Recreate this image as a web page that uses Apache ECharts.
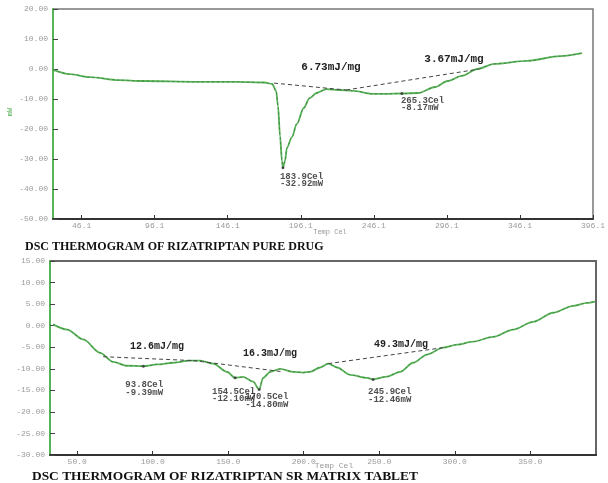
<!DOCTYPE html>
<html>
<head>
<meta charset="utf-8">
<script src="https://cdn.jsdelivr.net/npm/echarts@6/dist/echarts.min.js"></script>
<style>
  html, body { margin: 0; padding: 0; background: #fff; }
  #chart { width: 608px; height: 483px; }
</style>
</head>
<body>
<div id="chart"></div>
<script>
// --- Pure drug thermogram (temperature in Cel, heat flow in mW) ---
const pureTemp = [26.5, 37.9, 51.5, 71.7, 87.3, 125.8, 152.8, 171.1, 176.5, 179.2, 180.5, 181.9, 183.2, 183.9,
  185.3, 186.6, 190.0, 193.4, 198.1, 202.1, 206.9, 213.6, 222.4, 231.9, 245.4, 254.2, 265.3,
  276.5, 288.0, 296.7, 306.2, 317.0, 328.5, 350.8, 373.8, 388.6];
const pureHeat = [-0.3, -1.7, -2.7, -3.7, -4.0, -4.3, -4.3, -4.5, -5.0, -7.3, -12.3, -22.3, -30.7, -32.92,
  -30.7, -26.3, -22.7, -18.3, -13.0, -9.7, -8.0, -6.7, -7.0, -7.3, -8.3, -8.3, -8.17,
  -8.0, -6.0, -4.0, -2.3, 0.0, 1.7, 2.7, 4.3, 5.3];
const purePeakTemp = [183.9, 265.3];
const purePeakHeat = [-32.92, -8.17];
const pureBaseTemp = [[177.8, 227.1], [227.1, 318.4]];
const pureBaseHeat = [[-4.7, -7.0], [-7.0, 0.0]];
const pureEnthalpy = ['6.73mJ/mg', '3.67mJ/mg'];
const pureTicksX = [46.1, 96.1, 146.1, 196.1, 246.1, 296.1, 346.1, 396.1];

// --- SR matrix tablet thermogram ---
const tabTemp = [34.0, 43.4, 54.0, 65.2, 73.8, 83.1, 93.8, 103.0, 113.6, 124.8, 131.4, 140.0, 149.3, 154.5,
  159.9, 166.5, 170.5, 173.1, 177.8, 184.4, 193.0, 199.6, 204.2, 210.9, 216.2, 222.1, 230.7, 242.0, 245.9,
  255.2, 263.8, 272.4, 281.7, 292.3, 301.6, 312.2, 325.4, 338.6, 351.9, 365.1, 378.4, 387.6, 392.9];
const tabHeat = [0.3, -0.9, -3.2, -6.3, -8.4, -9.3, -9.39, -9.0, -8.6, -8.1, -8.1, -8.8, -10.7, -12.10,
  -11.9, -13.0, -14.80, -12.1, -10.7, -10.0, -10.7, -10.9, -10.7, -9.7, -8.8, -9.7, -11.4, -12.1, -12.46,
  -11.8, -10.7, -8.6, -6.7, -5.1, -4.4, -3.7, -2.6, -0.9, 0.9, 3.0, 4.6, 5.3, 5.6];
const tabPeakTemp = [93.8, 154.5, 170.5, 245.9];
const tabPeakHeat = [-9.39, -12.10, -14.80, -12.46];
const tabBaseTemp = [[67.2, 126.8], [126.8, 186.4], [216.2, 292.3]];
const tabBaseHeat = [[-7.2, -8.1], [-8.1, -10.7], [-8.8, -5.1]];
const tabEnthalpy = ['12.6mJ/mg', '16.3mJ/mg', '49.3mJ/mg'];
const tabTicksX = [50, 100, 150, 200, 250, 300, 350];

// label offsets (pixels) for the peak annotations
const purePeakOffsets = [[-1.5, 6.5], [0.5, 4.5]];
const tabPeakOffsets = [[-16.5, 16.5], [-21.5, 11.5], [-12.5, 5.5], [-3.5, 10.5]];
// enthalpy text anchors (pixels) and sizes
const pureEnthalpyPos = [[331, 67], [454, 59]];
const tabEnthalpyPos = [[157, 346], [270, 353], [401, 344]];

const zip = (a, b) => a.map((v, i) => [v, b[i]]);

const GREEN = '#57b357';
const MONO = "'Liberation Mono', 'DejaVu Sans Mono', monospace";

function xAxisCfg(grid, min, max, ticks) {
  return {
    type: 'value', gridIndex: grid, min: min, max: max,
    splitLine: { show: false },
    axisLine: { onZero: false, lineStyle: { color: '#333', width: 2 } },
    axisTick: { inside: true, length: 4, customValues: ticks, lineStyle: { color: '#333', width: 1 } },
    axisLabel: { customValues: ticks, formatter: v => v.toFixed(1), color: '#9a9a9a',
      fontFamily: MONO, fontSize: 8, margin: 3 }
  };
}
function yAxisCfg(grid, min, max, step) {
  return {
    type: 'value', gridIndex: grid, min: min, max: max, interval: step,
    splitLine: { show: false },
    axisLine: { onZero: false, lineStyle: { color: GREEN, width: 2 } },
    axisTick: { inside: true, length: 5, lineStyle: { color: '#444', width: 1 } },
    axisLabel: { formatter: v => v.toFixed(2), color: '#9a9a9a', fontFamily: MONO, fontSize: 8, margin: 5,
      showMinLabel: true, showMaxLabel: true }
  };
}

function curveSeries(idx, temps, heats) {
  const data = zip(temps, heats);
  return [
    { type: 'line', xAxisIndex: idx, yAxisIndex: idx, data: data, showSymbol: false,
      smooth: 0.3, smoothMonotone: 'x',
      lineStyle: { color: GREEN, width: 1.8 }, z: 3 },
    { type: 'line', xAxisIndex: idx, yAxisIndex: idx, data: data, showSymbol: false,
      smooth: 0.3, smoothMonotone: 'x',
      lineStyle: { color: '#2f4f2f', width: 0.8, type: [2, 3], opacity: 0.6 }, z: 4 }
  ];
}
function baseSeries(idx, bt, bh) {
  return bt.map((t, i) => ({
    type: 'line', xAxisIndex: idx, yAxisIndex: idx, data: zip(t, bh[i]), showSymbol: false,
    lineStyle: { color: '#444', width: 1, type: [4, 3] }, z: 5
  }));
}
function peakSeries(idx, pt, ph, offsets) {
  return {
    type: 'scatter', xAxisIndex: idx, yAxisIndex: idx, symbolSize: 3,
    itemStyle: { color: '#333' }, z: 6,
    data: pt.map((t, i) => ({
      value: [t, ph[i]],
      label: { show: true, position: offsets[i], align: 'left', verticalAlign: 'top',
        formatter: t.toFixed(1) + 'Cel\n' + ph[i].toFixed(2) + 'mW',
        fontFamily: MONO, fontSize: 9, fontWeight: 'bold', lineHeight: 7.5, color: '#222' }
    }))
  };
}
function noteText(texts, pos, size) {
  return texts.map((s, i) => ({
    type: 'text', x: pos[i][0], y: pos[i][1],
    style: { text: s, fill: '#222', font: 'bold ' + size + 'px ' + MONO, textAlign: 'center', textVerticalAlign: 'middle' }
  }));
}

const chart = echarts.init(document.getElementById('chart'));
chart.setOption({
  animation: false,
  backgroundColor: '#ffffff',
  grid: [
    { left: 53, top: 9, width: 547, height: 210, show: true, borderColor: '#777', borderWidth: 1.5 },
    { left: 50, top: 261, width: 546, height: 194, show: true, borderColor: '#666', borderWidth: 2 }
  ],
  xAxis: [xAxisCfg(0, 26.5, 396.1, pureTicksX), xAxisCfg(1, 32.0, 393.5, tabTicksX)],
  yAxis: [yAxisCfg(0, -50, 20, 10), yAxisCfg(1, -30, 15, 5)],
  series: [].concat(
    curveSeries(0, pureTemp, pureHeat),
    baseSeries(0, pureBaseTemp, pureBaseHeat),
    [peakSeries(0, purePeakTemp, purePeakHeat, purePeakOffsets)],
    curveSeries(1, tabTemp, tabHeat),
    baseSeries(1, tabBaseTemp, tabBaseHeat),
    [peakSeries(1, tabPeakTemp, tabPeakHeat, tabPeakOffsets)]
  ),
  graphic: [].concat(
    noteText(pureEnthalpy, pureEnthalpyPos, 11),
    noteText(tabEnthalpy, tabEnthalpyPos, 10),
    [
      { type: 'text', x: 10, y: 112, rotation: Math.PI / 2,
        style: { text: 'mW', fill: GREEN, font: '7px ' + MONO, textAlign: 'center', textVerticalAlign: 'middle' } },
      { type: 'text', x: 330, y: 232,
        style: { text: 'Temp Cel', fill: '#999', font: '7px ' + MONO, textAlign: 'center', textVerticalAlign: 'middle' } },
      { type: 'text', x: 334, y: 466,
        style: { text: 'Temp Cel', fill: '#999', font: '8px ' + MONO, textAlign: 'center', textVerticalAlign: 'middle' } },
      { type: 'text', x: 25, y: 247,
        style: { text: 'DSC THERMOGRAM OF RIZATRIPTAN PURE DRUG', fill: '#111',
          font: 'bold 12px "Liberation Serif", serif', textAlign: 'left', textVerticalAlign: 'middle' } },
      { type: 'text', x: 32, y: 477,
        style: { text: 'DSC THERMOGRAM OF RIZATRIPTAN SR MATRIX TABLET', fill: '#111',
          font: 'bold 13.4px "Liberation Serif", serif', textAlign: 'left', textVerticalAlign: 'middle' } }
    ]
  )
});
</script>
</body>
</html>
